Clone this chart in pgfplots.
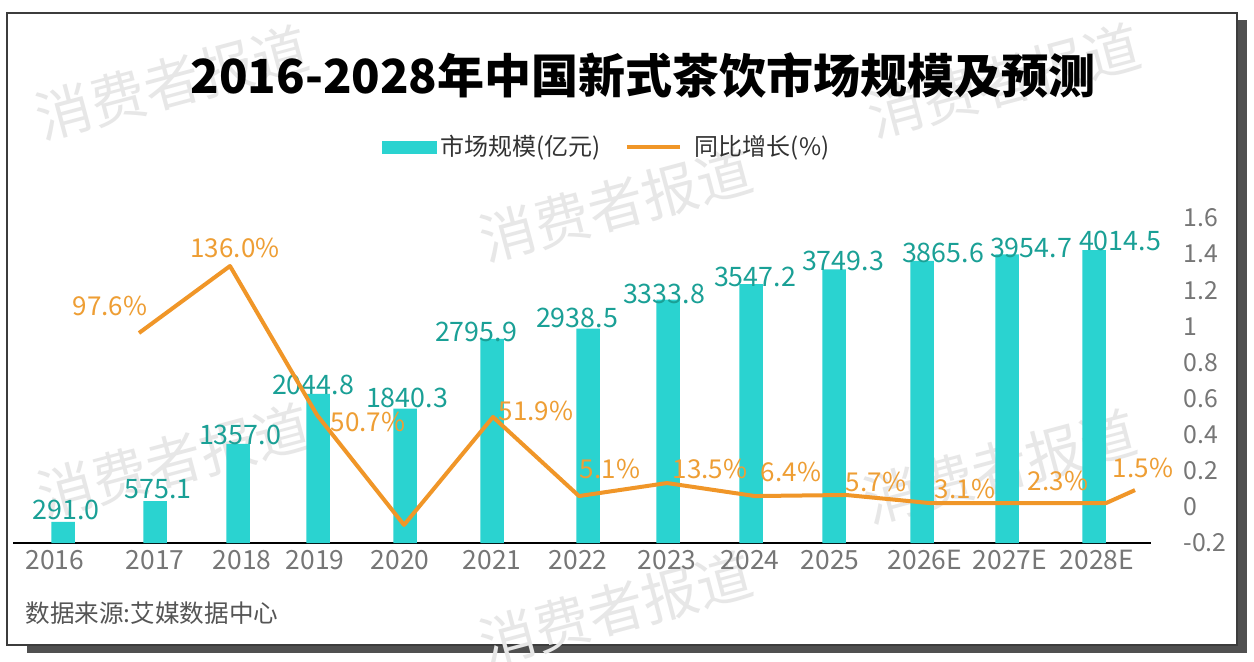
\documentclass[border=0pt]{standalone}
\usepackage{fontspec}
\setmainfont{Noto Sans CJK SC}
\usepackage{pgfplots}
\pgfplotsset{compat=1.18}
\definecolor{barc}{RGB}{42,211,208}
\definecolor{barlab}{RGB}{26,160,150}
\definecolor{linec}{RGB}{240,150,40}
\definecolor{linelab}{RGB}{238,158,52}
\definecolor{tickc}{RGB}{118,118,118}
\definecolor{wm}{RGB}{231,231,231}
\definecolor{shadowc}{RGB}{80,80,80}
\definecolor{framec}{RGB}{60,60,60}
\begin{document}
\begin{tikzpicture}
\useasboundingbox (0,0) rectangle (627pt,330.5pt);
\fill[white] (0,0) rectangle (627pt,330.5pt);
\fill[shadowc] (13.5pt,4pt) rectangle (623.5pt,320.5pt);
\filldraw[fill=white,draw=framec,line width=0.75pt] (3.5pt,8pt) rectangle (618.5pt,324pt);
% watermarks
\foreach \wx/\wy in {86pt/289pt, 502pt/290pt, 308pt/228pt, 87pt/100pt, 500pt/97pt, 308pt/26pt}{
  \node[text=wm,rotate=15,font=\fontsize{28pt}{30pt}\selectfont] at (\wx,\wy) {消费者报道};
}
% title
\node[font=\fontsize{23.5pt}{28pt}\selectfont\bfseries] at (321.5pt,293pt) {2016-2028年中国新式茶饮市场规模及预测};
% source
\node[anchor=west,inner sep=0pt,text={rgb,255:red,85;green,85;blue,85},font=\fontsize{12.3pt}{14pt}\selectfont] at (12.5pt,24pt) {数据来源:艾媒数据中心};

\begin{axis}[
  at={(6.5pt,59pt)}, anchor=south west,
  scale only axis, width=569pt, height=162.5pt,
  xmin=13, xmax=1151, ymin=0, ymax=4453,
  axis y line=none, axis x line*=bottom,
  x axis line style={-,black,line width=1pt},
  major tick length=0pt,
  xtick={55,155,242,315,400,492,578,667,750,830,925,1010,1097},
  xticklabels={2016,2017,2018,2019,2020,2021,2022,2023,2024,2025,2026E,2027E,2028E},
  xticklabel style={anchor=north,inner sep=0pt,yshift=-3.5pt,text=tickc,font=\fontsize{13.2pt}{15pt}\selectfont},
  /pgf/number format/assume math mode=true,
  ybar, bar width=11.75pt,
  clip=false,
]
\addplot[fill=barc,draw=none] coordinates {
 (63,291.0) (155,575.1) (238,1357.0) (318,2044.8) (405,1840.3) (492,2795.9)
 (588,2938.5) (668,3333.8) (751,3547.2) (834,3749.3) (922,3865.6) (1007,3954.7) (1094,4014.5)};
\begin{scope}[every node/.style={anchor=base,inner sep=0pt,text=barlab,font=\fontsize{13.4pt}{15pt}\selectfont}]
\node at (axis cs:66,322) {291.0};
\node at (axis cs:158,616) {575.1};
\node at (axis cs:240,1343) {1357.0};
\node at (axis cs:313,2028) {2044.8};
\node at (axis cs:407,1850) {1840.3};
\node at (axis cs:476,2767) {2795.9};
\node at (axis cs:577,2946) {2938.5};
\node at (axis cs:664,3288) {3333.8};
\node at (axis cs:755,3521) {3547.2};
\node at (axis cs:843,3727) {3749.3};
\node at (axis cs:943,3850) {3865.6};
\node at (axis cs:1031,3905) {3954.7};
\node at (axis cs:1120,4014) {4014.5};
\end{scope}
\end{axis}

\begin{axis}[
  at={(6.5pt,59pt)}, anchor=south west,
  scale only axis, width=569pt, height=162.5pt,
  xmin=13, xmax=1151, ymin=-0.2, ymax=1.6,
  axis x line=none, axis y line*=right,
  y axis line style={draw=none},
  major tick length=0pt,
  ytick={-0.2,0,0.2,0.4,0.6,0.8,1,1.2,1.4,1.6},
  yticklabels={-0.2,0,0.2,0.4,0.6,0.8,1,1.2,1.4,1.6},
  yticklabel style={anchor=west,inner sep=0pt,xshift=16pt,text=tickc,font=\fontsize{12.4pt}{14pt}\selectfont},
  /pgf/number format/assume math mode=true,
  clip=false,
  legend style={at={(rel axis cs:0.5225,1.218)},anchor=center,draw=none,fill=none,
    font=\fontsize{12pt}{14pt}\selectfont,text={rgb,255:red,51;green,51;blue,51},
    /tikz/every even column/.append style={column sep=10pt}},
  legend columns=2,
]
\addlegendimage{legend image code/.code={\fill[barc] (0pt,-3pt) rectangle (27pt,3pt);}}
\addlegendentry{市场规模(亿元)}
\addplot[linec,line width=2pt,line join=round,mark=none,
  legend image code/.code={\draw[linec,line width=2pt] (0pt,0pt) -- (26.5pt,0pt); \path (31pt,0pt);}]
  coordinates {(139,0.963) (230,1.334) (317,0.509) (404,-0.100) (493,0.498) (579,0.060)
   (667,0.132) (755,0.060) (846,0.066) (930,0.021) (1017,0.021) (1106,0.021) (1135,0.093)};
\addlegendentry{同比增长(\%)}
\begin{scope}[every node/.style={anchor=base,inner sep=0pt,text=linelab,font=\fontsize{13pt}{15pt}\selectfont}]
\node at (axis cs:110,1.062) {97.6\%};
\node at (axis cs:235,1.384) {136.0\%};
\node at (axis cs:368,0.415) {50.7\%};
\node at (axis cs:536,0.481) {51.9\%};
\node at (axis cs:610,0.160) {5.1\%};
\node at (axis cs:710,0.160) {13.5\%};
\node at (axis cs:791,0.138) {6.4\%};
\node at (axis cs:876,0.088) {5.7\%};
\node at (axis cs:965,0.049) {3.1\%};
\node at (axis cs:1058,0.093) {2.3\%};
\node at (axis cs:1143,0.165) {1.5\%};
\end{scope}
\end{axis}
\end{tikzpicture}
\end{document}
